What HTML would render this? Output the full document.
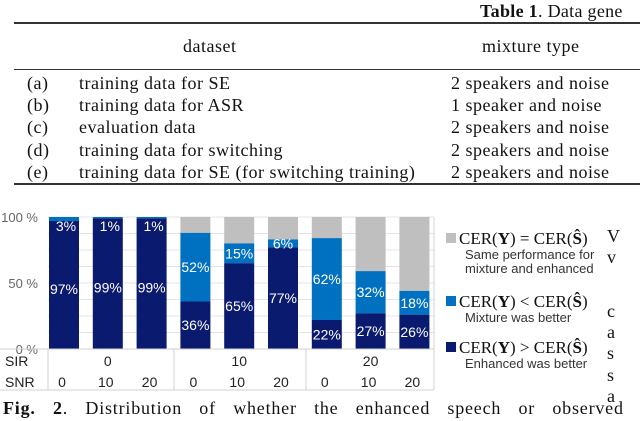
<!DOCTYPE html>
<html><head><meta charset="utf-8"><style>
body{margin:0;width:640px;height:421px;background:#fff;overflow:hidden;position:relative;font-family:"Liberation Serif",serif;color:#111}
.t{position:absolute;white-space:nowrap;font-size:18px;letter-spacing:0.5px;line-height:1}
.rule{position:absolute;left:14px;width:626px;background:#333}
</style></head><body>
<div class="t" style="left:480px;top:2px;letter-spacing:0.3px"><b>Table 1</b>. Data gene</div>
<div class="rule" style="top:22px;height:1.5px"></div>
<div class="t" style="left:183px;top:37px">dataset</div>
<div class="t" style="left:482px;top:37px">mixture type</div>
<div class="rule" style="top:69px;height:1px"></div>
<div>
<div class="t" style="left:27px;top:74px">(a)</div><div class="t" style="left:79px;top:74px">training data for SE</div><div class="t" style="left:451px;top:74px">2 speakers and noise</div>
<div class="t" style="left:27px;top:96px">(b)</div><div class="t" style="left:79px;top:96px">training data for ASR</div><div class="t" style="left:451px;top:96px">1 speaker and noise</div>
<div class="t" style="left:27px;top:118px">(c)</div><div class="t" style="left:79px;top:118px">evaluation data</div><div class="t" style="left:451px;top:118px">2 speakers and noise</div>
<div class="t" style="left:27px;top:141px">(d)</div><div class="t" style="left:79px;top:141px">training data for switching</div><div class="t" style="left:451px;top:141px">2 speakers and noise</div>
<div class="t" style="left:27px;top:163px">(e)</div><div class="t" style="left:79px;top:163px">training data for SE (for switching training)</div><div class="t" style="left:451px;top:163px">2 speakers and noise</div>
</div>
<div class="rule" style="top:183px;height:1.5px"></div>

<svg id="chart" width="640" height="421" style="position:absolute;left:0;top:0" font-family="Liberation Sans, sans-serif"></svg>

<div class="t" style="left:3px;top:399px;word-spacing:12px;letter-spacing:0.8px"><b>Fig. 2</b>. Distribution of whether the enhanced speech or observed</div>
<div>
<div class="t" style="left:607px;top:227px">V</div><div class="t" style="left:607px;top:248px">v</div>
<div class="t" style="left:607px;top:302px">c</div><div class="t" style="left:607px;top:323px">a</div>
<div class="t" style="left:607px;top:344px">s</div><div class="t" style="left:607px;top:366px">s</div><div class="t" style="left:607px;top:387px">a</div>
</div>
<script>
const sir=["0","10","20"];
const snr=["0","10","20","0","10","20","0","10","20"];
const enhanced=[97,99,99,36,65,77,22,27,26];
const mixture=[3,1,1,52,15,6,62,32,18];
const yTicks=[0,50,100];
const ns="http://www.w3.org/2000/svg",svg=document.getElementById("chart");
const top0=217,bot=349,x0=48,step=43.8,bw=30;
const y=v=>bot-(bot-top0)*v/100;
const x=i=>x0+1+i*step;
function el(t,a,p){const e=document.createElementNS(ns,t);for(const k in a)e.setAttribute(k,a[k]);(p||svg).appendChild(e);return e;}
for(let g=0;g<=100;g+=12.5){const l=el("line",{x1:x0,x2:434,y1:y(g),y2:y(g),stroke:"#e4e4e4","stroke-width":1});

}
yTicks.forEach(v=>{const t=el("text",{x:38,y:y(v)+5,"text-anchor":"end","font-size":13,fill:"#666"});t.textContent=v+" %";

});
enhanced.forEach((e,i)=>{
 const m=mixture[i];
 const s=el("rect",{x:x(i),y:y(100),width:bw,height:y(e+m)-y(100),fill:"#bfbfbf"});
 
 
 const b=el("rect",{x:x(i),y:y(e+m),width:bw,height:y(e)-y(e+m),fill:"#0070c0"});
 
 
 const d=el("rect",{x:x(i),y:y(e),width:bw,height:bot-y(e),fill:"#0a1a6e"});
 
 
 const t1=el("text",{x:x(i)+bw/2,y:(y(e)+bot)/2+5+(e>90?4:0),"text-anchor":"middle","font-size":14,fill:"#fff"});
 t1.textContent=e+"%";
 
 
 const t2=el("text",{x:x(i)+bw/2+(m<5?2:0),y:m<5?y(100)+14:(y(e+m)+y(e))/2+5,"text-anchor":"middle","font-size":14,fill:"#fff"});
 t2.textContent=m+"%";
 
 
});
[[0,349,434,349],[48,349,48,390],[174,349,174,390],[306,349,306,390],[434,217,434,390],[0,390,434,390]].forEach(a=>{
 const l=el("line",{x1:a[0],y1:a[1],x2:a[2],y2:a[3],stroke:"#d0d0d0","stroke-width":1});
 
 });
const a1=el("text",{x:5,y:366,"font-size":14,fill:"#222"});a1.textContent="SIR";


const a2=el("text",{x:5,y:387,"font-size":14,fill:"#222"});a2.textContent="SNR";


sir.forEach((s,g)=>{const t=el("text",{x:x(g*3+1)+bw/2,y:366,"text-anchor":"middle","font-size":14,fill:"#222"});t.textContent=s;

});
snr.forEach((s,i)=>{const t=el("text",{x:x(i)+bw/2-2,y:387,"text-anchor":"middle","font-size":14,fill:"#222"});t.textContent=s;

});
const leg=[["#bfbfbf","CER(<tspan font-weight='bold'>Y</tspan>) = CER(<tspan font-weight='bold'>Ŝ</tspan>)","Same performance for","mixture and enhanced",230],
["#0070c0","CER(<tspan font-weight='bold'>Y</tspan>) &lt; CER(<tspan font-weight='bold'>Ŝ</tspan>)","Mixture was better",null,293],
["#0a1a6e","CER(<tspan font-weight='bold'>Y</tspan>) &gt; CER(<tspan font-weight='bold'>Ŝ</tspan>)","Enhanced was better",null,339]];
leg.forEach(L=>{
 const g=el("g",{});
 
 
 el("rect",{x:446,y:L[4]+3,width:10,height:10,fill:L[0]},g);
 const t=el("text",{x:459,y:L[4]+14,"font-size":17,fill:"#111","font-family":"Liberation Serif, serif"},g);t.innerHTML=L[1];
 const d=el("text",{x:465,y:L[4]+29,"font-size":13,fill:"#333"},g);d.textContent=L[2];
 if(L[3]){const d2=el("text",{x:465,y:L[4]+43,"font-size":13,fill:"#333"},g);d2.textContent=L[3];}
});
</script>
</body></html>
